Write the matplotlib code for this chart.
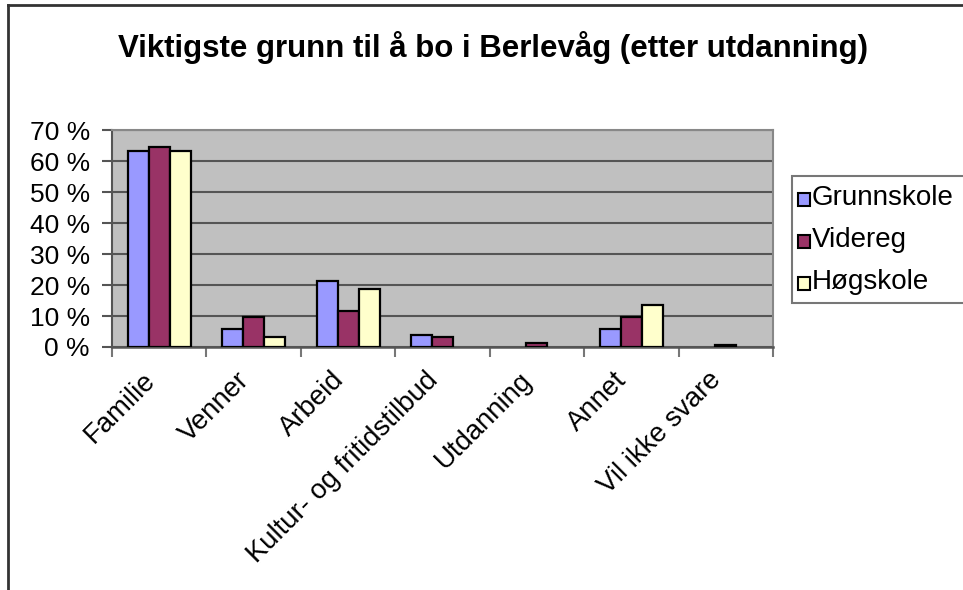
import matplotlib
matplotlib.use("Agg")
import matplotlib.pyplot as plt
from matplotlib.patches import Rectangle
from matplotlib.lines import Line2D
import numpy as np

categories = ["Familie", "Venner", "Arbeid", "Kultur- og fritidstilbud",
              "Utdanning", "Annet", "Vil ikke svare"]
grunnskole = [63.2, 5.8, 21.3, 3.9, 0.0, 5.8, 0.0]
videreg = [64.6, 9.7, 11.6, 3.2, 1.4, 9.7, 0.6]
hogskole = [63.2, 3.2, 18.7, 0.0, 0.0, 13.7, 0.0]
series_names = ["Grunnskole", "Videreg", "Høgskole"]
colors = ["#9999FF", "#993366", "#FFFFCC"]
yticks = [0, 10, 20, 30, 40, 50, 60, 70]
ytick_labels = ["0 %", "10 %", "20 %", "30 %", "40 %", "50 %", "60 %", "70 %"]
title = "Viktigste grunn til å bo i Berlevåg (etter utdanning)"

plt.rcParams['font.family'] = ['Liberation Sans', 'DejaVu Sans']

W, H = 963, 590
fig = plt.figure(figsize=(W / 100, H / 100), dpi=100)
fig.patch.set_facecolor("white")

# chart area border (left and top visible)
fig.add_artist(Line2D([8 / W, 8 / W], [0, 1 - 5 / H], transform=fig.transFigure,
                      color="#333333", lw=2))
fig.add_artist(Line2D([8 / W, 1], [1 - 5 / H, 1 - 5 / H], transform=fig.transFigure,
                      color="#333333", lw=2))

left, right, top, bottom = 112, 773, 130, 347
ax = fig.add_axes([left / W, 1 - bottom / H, (right - left) / W, (bottom - top) / H])
ax.set_facecolor("#C0C0C0")

x = np.arange(len(categories))
bw = 1 / 4.5
for i, (vals, c) in enumerate(zip([grunnskole, videreg, hogskole], colors)):
    v = np.array(vals, dtype=float)
    m = v > 0
    ax.bar(x[m] + (i - 1) * bw, v[m], width=bw, color=c, edgecolor="black",
           linewidth=1.6, zorder=3)

ax.set_xlim(-0.5, len(categories) - 0.5)
ax.set_ylim(0, 70)
ax.set_yticks(yticks)
ax.set_yticklabels(ytick_labels, fontsize=19)
ax.yaxis.grid(True, color="#555555", lw=1.5, zorder=1)
ax.set_axisbelow(True)

ax.set_xticks(np.arange(len(categories) + 1) - 0.5)
ax.set_xticklabels([])
ax.tick_params(axis="x", length=7, width=1.5, color="#777777", direction="out")
ax.tick_params(axis="y", length=7, width=1.5, color="#555555", direction="out", pad=9)

for sp in ["top", "right"]:
    ax.spines[sp].set_color("#888888")
    ax.spines[sp].set_linewidth(1.5)
ax.spines["left"].set_color("#555555")
ax.spines["left"].set_linewidth(1.5)
ax.spines["bottom"].set_color("#555555")
ax.spines["bottom"].set_linewidth(1.8)

for xi, lab in zip(x, categories):
    ax.annotate(lab, xy=(xi, 0), xycoords="data", xytext=(-6, -21),
                textcoords="offset points", rotation=45, rotation_mode="anchor",
                ha="right", va="center", fontsize=19.8)

fig.text(493 / W, 1 - 47 / H, title, ha="center", va="center",
         fontsize=22.5, fontweight="bold")

# legend (clipped at the figure edge like the reference)
lx0, ly0, ly1 = 792, 176, 303
fig.add_artist(Rectangle((lx0 / W, 1 - ly1 / H), (990 - lx0) / W, (ly1 - ly0) / H,
                         transform=fig.transFigure, facecolor="white",
                         edgecolor="#777777", lw=1.5))
for j, (name, c) in enumerate(zip(series_names, colors)):
    yc = 198 + j * 42
    fig.add_artist(Rectangle((798 / W, 1 - (yc + 8) / H), 12 / W, 13 / H,
                             transform=fig.transFigure, facecolor=c,
                             edgecolor="black", lw=1.5))
    fig.text(812 / W, 1 - yc / H, name, ha="left", va="center", fontsize=20)

fig.savefig("out.png", dpi=100)
